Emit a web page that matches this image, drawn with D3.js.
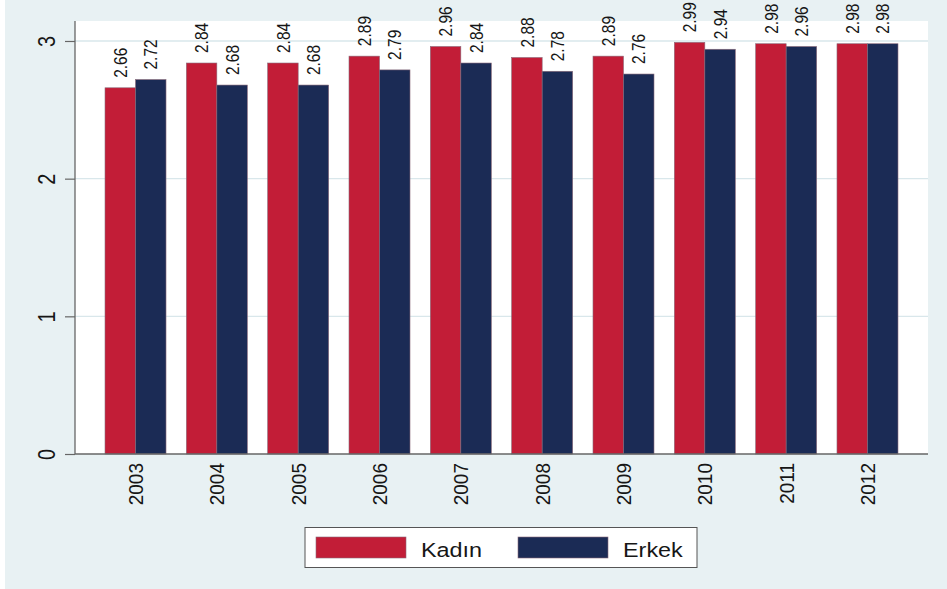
<!DOCTYPE html>
<html><head><meta charset="utf-8">
<script src="https://cdn.jsdelivr.net/npm/d3@7"></script>
<style>body{margin:0;background:#fff}svg{display:block;font-family:Arial,"Liberation Sans",sans-serif}</style>
</head><body><svg id="c" width="947" height="589"></svg>
<script>
const years = ["2003","2004","2005","2006","2007","2008","2009","2010","2011","2012"];
const kadin = [2.66,2.84,2.84,2.89,2.96,2.88,2.89,2.99,2.98,2.98];
const erkek = [2.72,2.68,2.68,2.79,2.84,2.78,2.76,2.94,2.96,2.98];
const seriesNames = ["Kadın","Erkek"];
const yTicks = [0,1,2,3];

const colors = ["#c21d37","#1b2b55"];
const svg = d3.select("#c");
svg.append("rect").attr("x",5).attr("y",0).attr("width",942).attr("height",589).attr("fill","#e8f1f3");
const L=75,R=928,T=21,B=454;
svg.append("rect").attr("x",L).attr("y",T).attr("width",R-L).attr("height",B-T).attr("fill","#fff");

const x = d3.scaleBand().domain(years).range([L,R]).paddingInner(0.25).paddingOuter(0.369);
const xs = d3.scaleBand().domain(seriesNames).range([0,x.bandwidth()]);
const y = d3.scaleLinear().domain([0,3]).range([B,B-3*137.67]);

// grid
svg.append("g").selectAll("line").data(yTicks.filter(d=>d>0)).join("line")
  .attr("x1",L).attr("x2",R).attr("y1",d=>y(d)).attr("y2",d=>y(d))
  .attr("stroke","#d9e7eb").attr("stroke-width",1.3);

const data = [];
years.forEach((yr,i)=>{data.push({yr,s:seriesNames[0],v:kadin[i],c:colors[0]});data.push({yr,s:seriesNames[1],v:erkek[i],c:colors[1]});});

svg.append("g").selectAll("rect").data(data).join("rect")
  .attr("x",d=>x(d.yr)+xs(d.s)).attr("width",xs.bandwidth())
  .attr("y",d=>y(d.v)).attr("height",d=>B-y(d.v))
  .attr("fill",d=>d.c).attr("stroke","#8a6a7a").attr("stroke-width",0.6);

svg.append("g").selectAll("text").data(data).join("text")
  .attr("transform",d=>`translate(${x(d.yr)+xs(d.s)+xs.bandwidth()/2},${y(d.v)-10}) rotate(-90) scale(1,1.18)`)
  .attr("dy","0.36em")
  .attr("font-size",15.5).attr("fill","#161616").text(d=>d.v.toFixed(2));

// axes
const yAxis = svg.append("g").attr("transform",`translate(${L},0)`)
  .call(d3.axisLeft(y).tickValues(yTicks).tickSize(10).tickFormat(d3.format("d")));
yAxis.select(".domain").attr("stroke","#666").attr("stroke-width",1.3).attr("d",`M0,${B}V${T}`);
yAxis.selectAll(".tick line").attr("stroke","#666").attr("stroke-width",1.2);
yAxis.selectAll(".tick text").attr("font-size",20).attr("fill","#161616")
  .attr("x",0).attr("y",0).attr("text-anchor","middle").attr("dy","0.36em")
  .attr("transform","translate(-28.5,0) rotate(-90) scale(1,1.15)");

const xAxis = svg.append("g").attr("transform",`translate(0,${B})`)
  .call(d3.axisBottom(x).tickSize(0));
xAxis.select(".domain").attr("stroke","#666").attr("stroke-width",1.3).attr("d",`M${L},0H${R}`);
xAxis.selectAll(".tick text").attr("font-size",19).attr("fill","#161616")
  .attr("x",0).attr("y",0).attr("dy","0.36em").attr("text-anchor","end")
  .attr("transform","translate(0,9) rotate(-90) scale(1,1.1)");

// legend
const lg = svg.append("g");
lg.append("rect").attr("x",305).attr("y",527.5).attr("width",392).attr("height",40)
  .attr("fill","#fff").attr("stroke","#555").attr("stroke-width",1);
const lx=[316,518];
seriesNames.forEach((n,i)=>{
  lg.append("rect").attr("x",lx[i]).attr("y",537).attr("width",90).attr("height",21)
    .attr("fill",colors[i]).attr("stroke","#8a6a7a").attr("stroke-width",0.6);
  lg.append("text").attr("transform",`translate(${lx[i]+105},556.5) scale(1.2,1)`)
    .attr("font-size",19.5).attr("fill","#161616").text(n);
});
</script></body></html>
